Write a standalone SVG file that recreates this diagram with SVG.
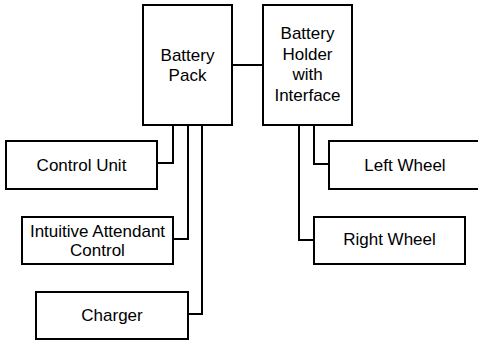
<svg xmlns="http://www.w3.org/2000/svg" width="478" height="340" viewBox="0 0 478 340">
<style>
.box{fill:#fff;stroke:#000;stroke-width:2}
.ln{fill:none;stroke:#000;stroke-width:2}
text{font-family:"Liberation Sans",Arial,sans-serif;font-size:17px;fill:#000;text-anchor:middle}
</style>
<rect width="478" height="340" fill="#fff"/>
<g id="connectors">
<path class="ln" d="M232,65H263"/>
<path class="ln" d="M173,125V163H157"/>
<path class="ln" d="M188,125V239H173"/>
<path class="ln" d="M202,125V314H188"/>
<path class="ln" d="M314,125V164H329"/>
<path class="ln" d="M299,125V240H314"/>
</g>
<g id="battery-pack"><rect class="box" x="143" y="5" width="89" height="120"/><text x="187.5" y="61">Battery</text><text x="187.5" y="81">Pack</text></g>
<g id="battery-holder"><rect class="box" x="263" y="5" width="89" height="120"/><text x="307.5" y="39">Battery</text><text x="307.5" y="60">Holder</text><text x="307.5" y="80">with</text><text x="307.5" y="101">Interface</text></g>
<g id="control-unit"><rect class="box" x="6" y="141" width="151" height="48"/><text x="81.5" y="171">Control Unit</text></g>
<g id="intuitive-attendant-control"><rect class="box" x="22" y="217" width="151" height="47"/><text x="97.5" y="237">Intuitive Attendant</text><text x="97.5" y="256">Control</text></g>
<g id="charger"><rect class="box" x="36" y="292" width="152" height="47"/><text x="112" y="321">Charger</text></g>
<g id="left-wheel"><rect class="box" x="329" y="141" width="152" height="48"/><text x="405" y="171">Left Wheel</text></g>
<g id="right-wheel"><rect class="box" x="314" y="217" width="151" height="47"/><text x="389.5" y="245">Right Wheel</text></g>
</svg>
